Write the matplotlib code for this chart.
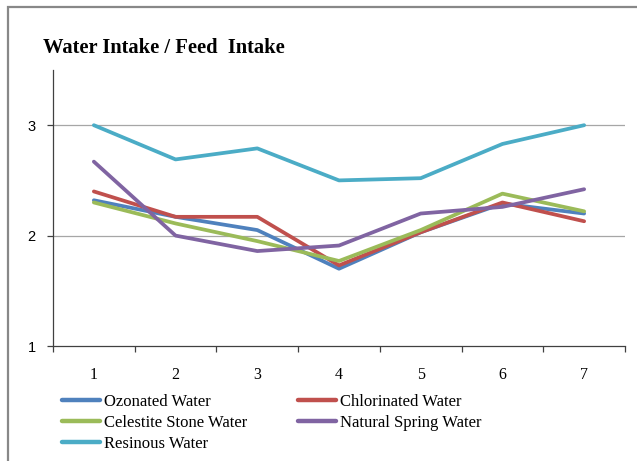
import numpy as np
import matplotlib.pyplot as plt
from matplotlib.patches import Rectangle

# data
weeks = [1, 2, 3, 4, 5, 6, 7]
ozonated = [2.32, 2.17, 2.05, 1.70, 2.03, 2.29, 2.20]
chlorinated = [2.40, 2.17, 2.17, 1.73, 2.03, 2.30, 2.13]
celestite = [2.30, 2.11, 1.95, 1.77, 2.05, 2.38, 2.22]
natural_spring = [2.67, 2.00, 1.86, 1.91, 2.20, 2.26, 2.42]
resinous = [3.00, 2.69, 2.79, 2.50, 2.52, 2.83, 3.00]

series = [
    ('Ozonated Water', ozonated, '#4F81BD'),
    ('Chlorinated Water', chlorinated, '#C0504D'),
    ('Celestite Stone Water', celestite, '#9BBB59'),
    ('Natural Spring Water', natural_spring, '#8064A2'),
    ('Resinous Water', resinous, '#4BACC6'),
]

serif = ['Liberation Serif', 'DejaVu Serif']

fig = plt.figure(figsize=(6.37, 4.61), dpi=100)
# outer chart frame (cut off at the right and bottom)
fig.patches.append(Rectangle((8 / 637, -0.1), 1.2, 1 - 7 / 461 + 0.1,
                             transform=fig.transFigure, fill=False,
                             edgecolor='#888888', linewidth=1.6))

ax = fig.add_axes([53 / 637, 1 - 346 / 461, 572 / 637, 276 / 461])
lines = {}
for name, vals, col in series:
    lines[name], = ax.plot(weeks, vals, color=col, linewidth=2.7, label=name,
                           solid_capstyle='round')

ax.set_xlim(0.5, 7.5)
ax.set_ylim(1, 3.5)
ax.set_yticks([1, 2, 3])
ax.set_yticklabels(['1', '2', '3'], fontsize=10.5, family='Liberation Sans')
ax.set_xticks(weeks)
ax.set_xticklabels([str(w) for w in weeks], fontsize=11.5, family=serif)
ax.set_xticks(np.arange(0.5, 8, 1), minor=True)
ax.tick_params(axis='x', which='major', length=0, pad=15)
ax.tick_params(axis='x', which='minor', length=4.5, color='#404040', width=0.9)
ax.tick_params(axis='y', length=4.5, pad=8, color='#404040', width=0.9)
for y in [2, 3]:
    ax.axhline(y, color='#A6A6A6', linewidth=0.9, zorder=0)
for s in ['top', 'right']:
    ax.spines[s].set_visible(False)
for s in ['left', 'bottom']:
    ax.spines[s].set_color('#404040')
    ax.spines[s].set_linewidth(0.9)

fig.text(43 / 637, 1 - 48 / 461, 'Water Intake / Feed  Intake', fontsize=14.8,
         fontweight='bold', family=serif, va='center', ha='left')

# legend is filled column by column, so order it to read row by row
order = ['Ozonated Water', 'Celestite Stone Water', 'Resinous Water',
         'Chlorinated Water', 'Natural Spring Water']
leg = fig.legend([lines[n] for n in order], order,
                 loc='upper left', bbox_to_anchor=(62 / 637, 1 - 394 / 461), ncol=2,
                 frameon=False, prop={'family': serif, 'size': 12},
                 handlelength=2.3, handletextpad=0.25, columnspacing=3.0,
                 labelspacing=0.3, borderpad=0, borderaxespad=0)
for line in leg.get_lines():
    line.set_linewidth(3.2)

fig.savefig('out.png', dpi=100)
